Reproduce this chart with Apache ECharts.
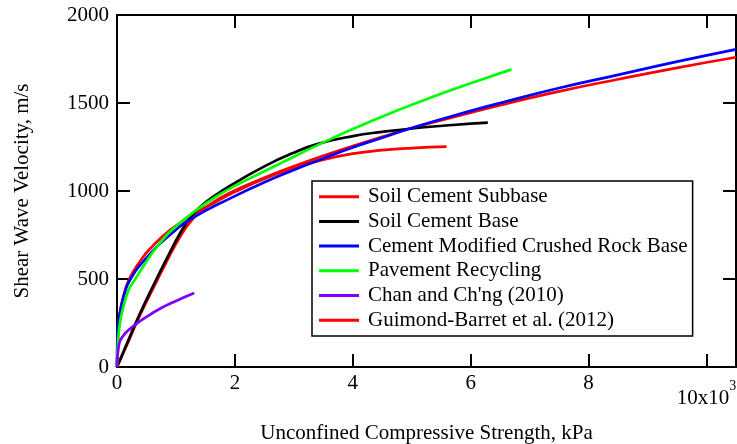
<!DOCTYPE html>
<html>
<head>
<meta charset="utf-8">
<script src="https://cdn.jsdelivr.net/npm/echarts@6/dist/echarts.min.js"></script>
<style>
  html, body { margin: 0; padding: 0; background: #ffffff; }
  #chart { width: 737px; height: 444px; }
</style>
</head>
<body>
<div id="chart"></div>
<script>
// Unconfined compressive strength in thousands of kPa, shear wave velocity in m/s
const soilCementSubbase = [
  [0, 0], [0.01, 110], [0.03, 250], [0.06, 330], [0.1, 390], [0.2, 494], [0.39, 600],
  [0.56, 672], [0.9, 778], [1.38, 885], [1.66, 935], [2.0, 995], [2.5, 1070],
  [3.0, 1130], [3.5, 1178], [4.0, 1212], [4.5, 1232], [5.0, 1244], [5.59, 1252]
];
const soilCementBase = [
  [0, 0], [0.19, 150], [0.37, 290], [0.67, 500], [0.82, 600], [1.07, 760], [1.27, 860],
  [1.5, 935], [1.97, 1040], [2.5, 1140], [3.0, 1218], [3.41, 1268], [4.0, 1312],
  [4.5, 1336], [5.08, 1358], [5.7, 1375], [6.29, 1388]
];
const crushedRockBase = [
  [0, 0], [0.01, 190], [0.03, 267], [0.06, 324], [0.12, 410], [0.22, 494], [0.5, 620],
  [0.93, 760], [1.3, 850], [1.92, 958], [2.5, 1050], [3.0, 1120], [3.5, 1185],
  [3.95, 1242], [4.5, 1303], [5.0, 1358], [6.0, 1455], [6.5, 1500], [7.5, 1585],
  [8.5, 1660], [9.5, 1735], [10.5, 1805]
];
const pavementRecycling = [
  [0, 0], [0.02, 150], [0.05, 250], [0.1, 330], [0.2, 440], [0.3, 494], [0.5, 600],
  [0.68, 684], [0.93, 778], [1.3, 880], [1.6, 950], [1.92, 1015], [2.5, 1112],
  [3.0, 1195], [3.41, 1262], [4.0, 1352], [4.7, 1450], [5.36, 1536], [6.0, 1612], [6.69, 1691]
];
const chanAndChng = [
  [0, 0], [0.03, 120], [0.1, 175], [0.25, 225], [0.5, 285], [0.75, 335], [1.0, 375], [1.31, 420]
];
const guimondBarret = [
  [0, 0], [0.2, 150], [0.37, 280], [0.67, 485], [0.82, 585], [1.07, 740], [1.27, 835],
  [1.5, 905], [1.92, 990], [2.5, 1075], [3.0, 1140], [3.5, 1200], [3.95, 1250],
  [4.5, 1308], [5.0, 1358], [6.0, 1445], [6.5, 1488], [7.5, 1566], [8.5, 1635],
  [9.5, 1700], [10.5, 1760]
];

const seriesNames = [
  'Soil Cement Subbase', 'Soil Cement Base', 'Cement Modified Crushed Rock Base',
  'Pavement Recycling', "Chan and Ch'ng (2010)", 'Guimond-Barret et al. (2012)'
];
const seriesColors = ['#ff0000', '#000000', '#0000ff', '#00ff00', '#7f00ff', '#ff0000'];
const seriesData = [
  soilCementSubbase, soilCementBase, crushedRockBase,
  pavementRecycling, chanAndChng, guimondBarret
];
// drawing order, bottom to top
const drawOrder = [5, 0, 1, 2, 3, 4];

const xTickLabels = ['0', '2', '4', '6', '8', '10x10'];
const yTickLabels = ['0', '500', '1000', '1500', '2000'];

const FONT = '"Liberation Serif", "Times New Roman", serif';

const chart = echarts.init(document.getElementById('chart'), null, { renderer: 'canvas' });

const tickStyle = { show: true, inside: true, length: 13, lineStyle: { color: '#000', width: 2 } };
const lineStyleAxis = { show: true, onZero: false, lineStyle: { color: '#000', width: 2 } };

const option = {
  backgroundColor: '#ffffff',
  animation: false,
  grid: { left: 117, right: 1, top: 15, bottom: 77, containLabel: false, outerBoundsMode: 'none' },
  legend: {
    data: seriesNames,
    orient: 'vertical',
    left: 312,
    top: 181,
    icon: 'rect',
    itemWidth: 40,
    itemHeight: 3,
    itemGap: 2.7,
    padding: [4.7, 5, 4.7, 7],
    borderColor: '#000',
    borderWidth: 1.5,
    backgroundColor: '#ffffff',
    textStyle: { fontFamily: FONT, fontSize: 21, color: '#000', lineHeight: 22, padding: [0, 0, 0, 4] }
  },
  xAxis: [
    {
      type: 'value', position: 'bottom', min: 0, max: 10.5, interval: 2,
      name: 'Unconfined Compressive Strength, kPa',
      nameLocation: 'middle', nameGap: 56, nameMoveOverlap: false,
      nameTextStyle: { fontFamily: FONT, fontSize: 21, color: '#000' },
      axisLine: lineStyleAxis, axisTick: tickStyle, splitLine: { show: false },
      axisLabel: {
        margin: 6, showMaxLabel: false, fontFamily: FONT, fontSize: 21, color: '#000',
        formatter: function (v) {
          const i = Math.round(v / 2);
          if (Math.abs(v - i * 2) > 1e-6 || i >= xTickLabels.length) return '';
          if (i === 5) return '{b|' + xTickLabels[i] + '}{s|3}';
          return xTickLabels[i];
        },
        rich: {
          b: { fontFamily: FONT, fontSize: 21, lineHeight: 50, color: '#000', verticalAlign: 'middle' },
          s: { fontFamily: FONT, fontSize: 14, color: '#000', verticalAlign: 'top', padding: [6, 0, 0, 0] }
        }
      }
    },
    {
      type: 'value', position: 'top', min: 0, max: 10.5, interval: 2,
      axisLine: lineStyleAxis, axisTick: tickStyle, axisLabel: { show: false }, splitLine: { show: false }
    }
  ],
  yAxis: [
    {
      type: 'value', position: 'left', min: 0, max: 2000, interval: 500,
      name: 'Shear Wave Velocity, m/s',
      nameLocation: 'middle', nameGap: 84, nameMoveOverlap: false,
      nameTextStyle: { fontFamily: FONT, fontSize: 21, color: '#000' },
      axisLine: lineStyleAxis, axisTick: tickStyle, splitLine: { show: false },
      axisLabel: {
        margin: 8, fontFamily: FONT, fontSize: 21, color: '#000',
        formatter: function (v) { return yTickLabels[Math.round(v / 500)]; }
      }
    },
    {
      type: 'value', position: 'right', min: 0, max: 2000, interval: 500,
      axisLine: lineStyleAxis, axisTick: tickStyle, axisLabel: { show: false }, splitLine: { show: false }
    }
  ],
  series: drawOrder.map(function (i) {
    return {
      name: seriesNames[i],
      type: 'line',
      data: seriesData[i],
      xAxisIndex: 0,
      yAxisIndex: 0,
      symbol: 'none',
      smooth: 0.5,
      color: seriesColors[i],
      lineStyle: { color: seriesColors[i], width: 2.7 }
    };
  })
};

chart.setOption(option);
</script>
</body>
</html>
